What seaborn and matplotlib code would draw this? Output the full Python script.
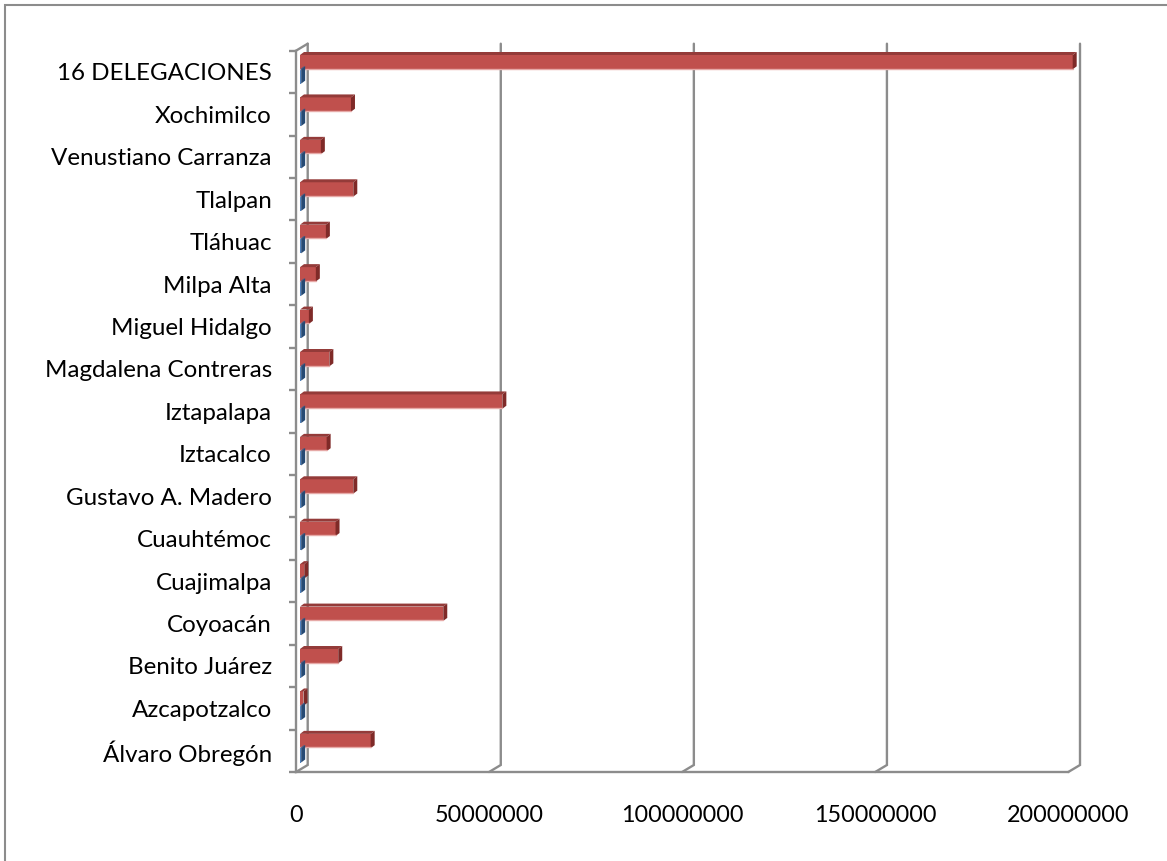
import numpy as np
import pandas as pd
import matplotlib
matplotlib.use("Agg")
import matplotlib.pyplot as plt
from matplotlib.patches import Polygon, Rectangle
from matplotlib.transforms import Affine2D, IdentityTransform, blended_transform_factory
import seaborn as sns

# Delegaciones, listed top to bottom
categorias = [
    "16 DELEGACIONES", "Xochimilco", "Venustiano Carranza", "Tlalpan",
    "Tláhuac", "Milpa Alta", "Miguel Hidalgo", "Magdalena Contreras",
    "Iztapalapa", "Iztacalco", "Gustavo A. Madero", "Cuauhtémoc",
    "Cuajimalpa", "Coyoacán", "Benito Juárez", "Azcapotzalco",
    "Álvaro Obregón",
]
serie_a = [200100000, 13200000, 5400000, 13800000, 6700000, 4100000, 2300000,
           7600000, 52400000, 6900000, 13800000, 9200000, 1100000, 37100000,
           9900000, 900000, 18300000]
serie_b = [300000, 300000, 300000, 300000, 300000, 300000, 300000, 300000,
           300000, 300000, 300000, 300000, 300000, 300000, 300000, 300000,
           300000]
nombres_series = ["Serie 1", "Serie 2"]
xticks = [0, 50000000, 100000000, 150000000, 200000000]

df = pd.DataFrame({
    "categoria": categorias * 2,
    "serie": [nombres_series[0]] * len(categorias) + [nombres_series[1]] * len(categorias),
    "valor": serie_a + serie_b,
})

sns.set_style("white")
plt.rcParams["font.family"] = ["Lato", "DejaVu Sans"]

W, H = 1167, 861
fig = plt.figure(figsize=(W / 100, H / 100), dpi=100)
fig.patch.set_facecolor("white")

# front plane of the 3-D plot area, in pixels
x0, x1, ytop, ybot = 296.0, 1068.3, 50.7, 772.0
ax = fig.add_axes([x0 / W, 1 - ybot / H, (x1 - x0) / W, (ybot - ytop) / H])
ax.set_facecolor("none")

front = {"Serie 1": "#C0504D", "Serie 2": "#4F81BD"}
top_c = {"Serie 1": "#943B39", "Serie 2": "#355E91"}
side_c = {"Serie 1": "#7F2A28", "Serie 2": "#264A74"}

sns.barplot(data=df, x="valor", y="categoria", hue="serie", orient="h",
            order=categorias, hue_order=nombres_series,
            palette=[front[n] for n in nombres_series], saturation=1,
            width=0.675, linewidth=0, legend=False, ax=ax, zorder=3)

ax.set_xlim(0, 200000000)
ax.set_ylim(len(categorias) - 0.5, -0.5)
ax.set_xlabel("")
ax.set_ylabel("")

grey = "#8C8C8C"
lw = 1.7

# spines: left wall front edge and floor front edge
for s in ["top", "right"]:
    ax.spines[s].set_visible(False)
for s in ["left", "bottom"]:
    ax.spines[s].set_color(grey)
    ax.spines[s].set_linewidth(lw)

ax.set_xticks(xticks)
ax.set_xticklabels([str(v) for v in xticks])
ax.tick_params(axis="x", length=5.8, width=lw, color=grey, direction="out",
               pad=18, labelsize=16.8, labelcolor="black")
ax.set_yticks(np.arange(len(categorias)))
ax.set_yticklabels(categorias)
ax.set_yticks(np.arange(len(categorias) + 1) - 0.5, minor=True)
ax.tick_params(axis="y", which="major", length=0, pad=17.3, labelsize=17.4,
               labelcolor="black")
ax.tick_params(axis="y", which="minor", length=5, width=lw, color=grey,
               direction="out", left=True)
ax.grid(False)

# bars sit a little behind the front plane
bar_dx, bar_dy = 4.0, 2.6
depth_dx, depth_dy = 4.0, 3.0
shift = Affine2D().translate(bar_dx, bar_dy)
bars = [p for p in ax.patches if isinstance(p, Rectangle)]
n = len(categorias)
for i, p in enumerate(bars):
    serie = nombres_series[i // n] if len(bars) == 2 * n else nombres_series[0]
    p.set_transform(ax.transData + shift)
    p.set_clip_on(False)
    (xa, ya), (xb, yb) = ax.transData.transform([(p.get_x(), p.get_y()),
                                                 (p.get_x() + p.get_width(),
                                                  p.get_y() + p.get_height())])
    xa, xb = xa + bar_dx, xb + bar_dx
    ya, yb = ya + bar_dy, yb + bar_dy
    yl, yh = min(ya, yb), max(ya, yb)
    top_face = Polygon([(xa, yh), (xb, yh), (xb + depth_dx, yh + depth_dy),
                        (xa + depth_dx, yh + depth_dy)], closed=True,
                       transform=IdentityTransform(), facecolor=top_c[serie],
                       edgecolor="none", zorder=4)
    side_face = Polygon([(xb, yl), (xb, yh), (xb + depth_dx, yh + depth_dy),
                         (xb + depth_dx, yl + depth_dy)], closed=True,
                        transform=IdentityTransform(), facecolor=side_c[serie],
                        edgecolor="none", zorder=4)
    fig.add_artist(top_face)
    fig.add_artist(side_face)
    if serie == nombres_series[0]:
        fig.add_artist(plt.Line2D([xa, xb], [yl + 0.8, yl + 0.8],
                                  transform=IdentityTransform(),
                                  color="#E6A9A7", lw=1.0, zorder=4))

# back wall gridlines with the diagonal floor joins
wall_dx, wall_dy = 11.7, 7.0
blend = blended_transform_factory(ax.transData, ax.transAxes)
for v in xticks:
    (fx, fy_bot), (_, fy_top) = blend.transform([(v, 0), (v, 1)])
    bx, by_bot, by_top = fx + wall_dx, fy_bot + wall_dy, fy_top + wall_dy
    ax.plot([fx, bx, bx], [fy_bot, by_bot, by_top], color=grey, lw=lw,
            transform=IdentityTransform(), clip_on=False, zorder=1,
            solid_joinstyle="miter")
    if v == xticks[0]:
        ax.plot([fx, bx], [fy_top, by_top], color=grey, lw=lw,
                transform=IdentityTransform(), clip_on=False, zorder=1)

# chart frame
fig.add_artist(Rectangle((4.5 / W, -0.05), 1.2, 1 - 4.5 / H + 0.05,
                         transform=fig.transFigure, fill=False,
                         edgecolor="#8C8C8C", lw=1.5, zorder=0))

fig.savefig("out.png", dpi=100, facecolor="white")
